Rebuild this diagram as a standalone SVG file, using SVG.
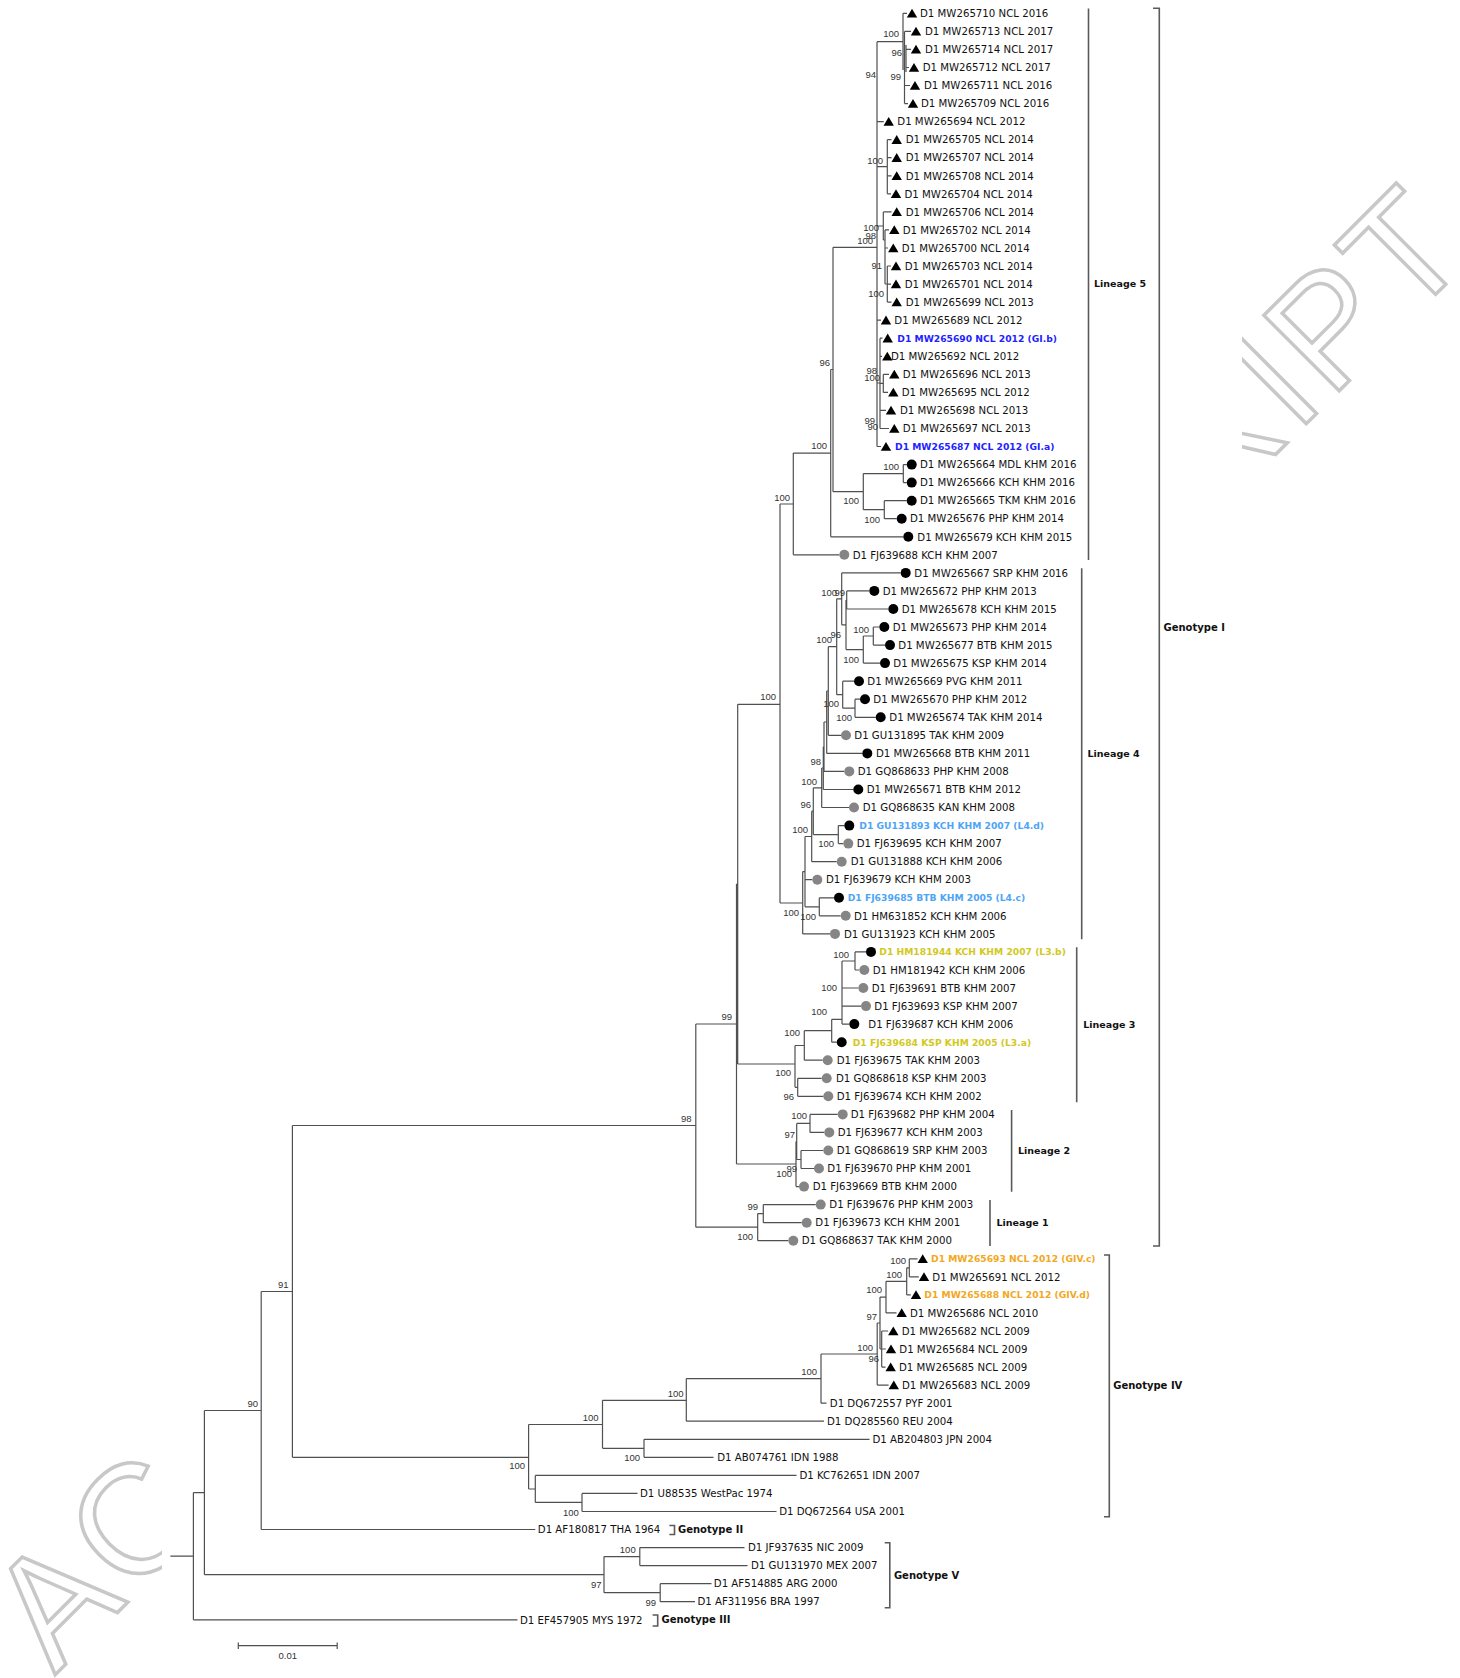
<svg xmlns="http://www.w3.org/2000/svg" xmlns:xlink="http://www.w3.org/1999/xlink" width="1460" height="1678" viewBox="0 0 1460 1678">
<style>
.br{fill:none;stroke:#505050;stroke-width:1.2}
.bk{fill:none;stroke:#5a5a5a;stroke-width:1.6}
.t{font-family:"DejaVu Sans","Verdana",sans-serif;font-size:10.2px;fill:#111}
.hb{font-family:"DejaVu Sans","Verdana",sans-serif;font-size:9.2px;font-weight:bold}
.blue{fill:#1f1fff}
.lb{fill:#4ea5f5}
.yl{fill:#d2c81e}
.or{fill:#f2a81d}
.bs{font-family:"Liberation Sans",Arial,sans-serif;font-size:9.5px;fill:#333;text-anchor:end}
.cl{font-family:"DejaVu Sans","Verdana",sans-serif;font-size:9.5px;font-weight:bold;fill:#111}
.gl{font-family:"DejaVu Sans","Verdana",sans-serif;font-size:10px;font-weight:bold;fill:#111}
.k{fill:#000}
.g{fill:#858585}
.wm{font-family:"Liberation Sans",Arial,sans-serif;font-size:155px;fill:none;stroke:#c8c8c8;stroke-width:3.5}
</style>
<defs>
<path id="tri" d="M0,-4.6 L5.2,4.2 L-5.2,4.2 Z" fill="#000"/>
</defs>
<rect x="0" y="0" width="1460" height="1678" fill="#fff"/>
<g id="watermark">
<text class="wm" x="0" y="0" transform="translate(55,1675) rotate(-45)" textLength="2007" lengthAdjust="spacing">ACCEPTED MANUSCRIPT</text>
</g>
<rect x="162" y="0" width="1080" height="1678" fill="#fff"/>

<g id="connectors">
<path class="br" d="
M903 13.3 H907 M904.5 31.4 H911 M906 49.4 H911 M906 67.5 H909 M904.5 85.5 H910 M904.5 103.6 H908
M903 13.3 V70 M904.5 31.4 V103.6 M906 45 V72
M877 41.7 H903 M877 121.6 H883.7 M877 41.7 V446.5
M877 166.7 H887.3 M887.3 139.7 V193.8 M887.3 139.7 H891.5 M887.3 157.7 H891.5 M887.3 175.8 H891.5 M887.3 193.8 H891
M877 226 H883.3 M883.3 211.9 V240 M883.3 211.9 H891.5 M883.3 240 H885 M885 229.9 V284 M885 229.9 H889 M885 248 H888
M885 284 H887.3 M887.3 266 V302.1 M887.3 266 H891 M887.3 284.1 H891 M887.3 302.1 H891.5
M877 320.2 H881 M877 383 H880 M880 338.2 V428.5 M880 338.2 H882.5 M880 356.3 H882
M880 383.3 H883.3 M883.3 374.3 V392.4 M883.3 374.3 H889 M883.3 392.4 H888 M880 410.4 H886 M880 428.5 H889 M877 446.5 H881
M903.3 464.6 V482.6 M903.3 464.6 H906.7 M903.3 482.6 H906.7
M863.3 473.6 V509.7 M863.3 473.6 H903.3
M884.3 500.7 V518.7 M863.3 509.7 H884.3 M884.3 500.7 H906.7 M884.3 518.7 H896.7
M833 247.3 V491.7 M833 247.3 H877 M833 491.7 H863.3
M830.7 369.5 V536.8 M830.7 369.5 H833 M830.7 536.8 H903.3
M793.3 453.1 V554.8 M793.3 453.1 H830.7 M793.3 554.8 H839.3
M780 504 V903 M780 504 H793.3 M780 903 H802.7
M846.7 590.9 V609 M846.7 590.9 H869.3 M846.7 609 H888.3
M873.3 627 V645.1 M873.3 627 H879.3 M873.3 645.1 H885
M863.3 636 V663.1 M863.3 636 H873.3 M863.3 663.1 H880
M846 600 V649.6 M846 600 H846.7 M846 649.6 H863.3
M841.7 572.9 V624.8 M841.7 572.9 H900.7 M841.7 624.8 H846
M855 699.2 V717.3 M855 699.2 H860 M855 717.3 H875.7
M842.7 681.2 V708.2 M842.7 681.2 H854 M842.7 708.2 H855
M836.7 598.8 V694.7 M836.7 598.8 H841.7 M836.7 694.7 H842.7
M828.3 646.7 V735.3 M828.3 646.7 H836.7 M828.3 735.3 H841
M826.7 691 V753.4 M826.7 691 H828.3 M826.7 753.4 H862.3
M824 722 V771.4 M824 722 H826.7 M824 771.4 H844.3
M823.3 746.7 V789.5 M823.3 746.7 H824 M823.3 789.5 H853.3
M821.7 768 V807.5 M821.7 768 H823.3 M821.7 807.5 H849
M813.3 787.8 V834.6 M813.3 787.8 H821.7 M813.3 834.6 H838.3
M838.3 825.6 V843.6 M838.3 825.6 H844.3 M838.3 843.6 H843.3
M811.7 811.2 V861.7 M811.7 811.2 H813.3 M811.7 861.7 H836.7
M805 836.5 V906.8 M805 836.5 H811.7 M805 879.7 H812.3 M805 906.8 H819.3
M819.3 897.8 V915.8 M819.3 897.8 H834 M819.3 915.8 H840.7
M802.7 871.6 V933.9 M802.7 871.6 H805 M802.7 933.9 H830
M855 951.9 V970 M855 951.9 H866 M855 970 H859.3
M842 961 V1024.1 M842 961 H855 M842 988 H858.3 M842 1006.1 H861 M842 1024.1 H849.3
M831.7 1019.3 V1042.2 M831.7 1019.3 H842 M831.7 1042.2 H836.7
M804.3 1030.7 V1060.2 M804.3 1030.7 H831.7 M804.3 1060.2 H822.7
M797.7 1078.3 V1096.3 M797.7 1078.3 H821.7 M797.7 1096.3 H823.3
M795 1045.5 V1087.3 M795 1045.5 H804.3 M795 1087.3 H797.7
M737.7 704.3 V1064 M737.7 704.3 H780 M737.7 1064 H795
M810 1114.4 V1132.4 M810 1114.4 H837.7 M810 1132.4 H824.3
M801 1150.5 V1168.5 M801 1150.5 H823.3 M801 1168.5 H814
M796.7 1123.4 V1159.5 M796.7 1123.4 H810 M796.7 1159.5 H801
M796 1141.5 V1186.6 M796 1141.5 H796.7 M796 1186.6 H799
M736.5 884 V1164 M736.5 1164 H796 M736.5 884 H737.7
M763.3 1204.6 V1222.7 M763.3 1204.6 H815.7 M763.3 1222.7 H801.7
M757.7 1213.6 V1240.7 M757.7 1213.6 H763.3 M757.7 1240.7 H788.3
M695.8 1024 V1227.2 M695.8 1024 H736.5 M695.8 1227.2 H757.7
M292.4 1125.5 H695.8
M909.3 1258.8 V1276.8 M909.3 1258.8 H917.5 M909.3 1276.8 H918.8
M906.7 1267.8 V1294.9 M906.7 1267.8 H909.3 M906.7 1294.9 H910.8
M886 1281.3 V1312.9 M886 1281.3 H906.7 M886 1312.9 H896.5
M880 1297.1 V1349 M880 1297.1 H886 M880 1349 H881.7
M881.7 1331 V1367.1 M881.7 1331 H888.1 M881.7 1349 H885.8 M881.7 1367.1 H885.5
M877.2 1323 V1385.1 M877.2 1323 H880 M877.2 1385.1 H888.6
M821 1354 V1403.2 M821 1354 H877.2 M821 1403.2 H826.5
M686.3 1378.6 V1421.2 M686.3 1378.6 H821 M686.3 1421.2 H824
M644 1439.3 V1457.3 M644 1439.3 H869.5 M644 1457.3 H713.5
M602.5 1400.3 V1448.3 M602.5 1400.3 H686.3 M602.5 1448.3 H644
M582 1493.4 V1511.5 M582 1493.4 H637.5 M582 1511.5 H776.5
M535.3 1475.4 V1502.4 M535.3 1475.4 H796.5 M535.3 1502.4 H582
M528.6 1424.5 V1489 M528.6 1424.5 H602.5 M528.6 1489 H535.3
M292.4 1125.5 V1457.3 M292.4 1457.3 H528.6
M261.2 1291.5 V1529.5 M261.2 1291.5 H292.4 M261.2 1529.5 H535.3
M639.8 1547.6 V1565.6 M639.8 1547.6 H744.5 M639.8 1565.6 H747.5
M660.2 1583.7 V1601.7 M660.2 1583.7 H711.5 M660.2 1601.7 H695
M604 1556.6 V1592.7 M604 1556.6 H639.8 M604 1592.7 H660.2
M204.4 1410.5 V1574.7 M204.4 1410.5 H261.2 M204.4 1574.7 H604
M193.4 1492.6 V1619.8 M193.4 1492.6 H204.4 M193.4 1619.8 H517.5
M170.4 1556.2 H193.4"/>
</g>

<g id="tips-lineage5">
<g id="tip1"><use xlink:href="#tri" x="912" y="13.3"/><text class="t" x="920" y="17">D1 MW265710 NCL 2016</text></g>
<g id="tip2"><use xlink:href="#tri" x="916" y="31.4"/><text class="t" x="925" y="35.1">D1 MW265713 NCL 2017</text></g>
<g id="tip3"><use xlink:href="#tri" x="916" y="49.4"/><text class="t" x="925" y="53.1">D1 MW265714 NCL 2017</text></g>
<g id="tip4"><use xlink:href="#tri" x="914" y="67.5"/><text class="t" x="922.7" y="71.2">D1 MW265712 NCL 2017</text></g>
<g id="tip5"><use xlink:href="#tri" x="915" y="85.5"/><text class="t" x="924" y="89.2">D1 MW265711 NCL 2016</text></g>
<g id="tip6"><use xlink:href="#tri" x="913" y="103.6"/><text class="t" x="921" y="107.3">D1 MW265709 NCL 2016</text></g>
<g id="tip7"><use xlink:href="#tri" x="888.7" y="121.6"/><text class="t" x="897.3" y="125.3">D1 MW265694 NCL 2012</text></g>
<g id="tip8"><use xlink:href="#tri" x="896.7" y="139.7"/><text class="t" x="905.7" y="143.4">D1 MW265705 NCL 2014</text></g>
<g id="tip9"><use xlink:href="#tri" x="896.7" y="157.7"/><text class="t" x="905.7" y="161.4">D1 MW265707 NCL 2014</text></g>
<g id="tip10"><use xlink:href="#tri" x="896.7" y="175.8"/><text class="t" x="905.7" y="179.5">D1 MW265708 NCL 2014</text></g>
<g id="tip11"><use xlink:href="#tri" x="896" y="193.8"/><text class="t" x="904.5" y="197.5">D1 MW265704 NCL 2014</text></g>
<g id="tip12"><use xlink:href="#tri" x="896.7" y="211.9"/><text class="t" x="905.7" y="215.6">D1 MW265706 NCL 2014</text></g>
<g id="tip13"><use xlink:href="#tri" x="894.3" y="229.9"/><text class="t" x="902.7" y="233.6">D1 MW265702 NCL 2014</text></g>
<g id="tip14"><use xlink:href="#tri" x="893.3" y="248"/><text class="t" x="901.7" y="251.7">D1 MW265700 NCL 2014</text></g>
<g id="tip15"><use xlink:href="#tri" x="896" y="266"/><text class="t" x="904.7" y="269.7">D1 MW265703 NCL 2014</text></g>
<g id="tip16"><use xlink:href="#tri" x="896" y="284.1"/><text class="t" x="904.7" y="287.8">D1 MW265701 NCL 2014</text></g>
<g id="tip17"><use xlink:href="#tri" x="896.7" y="302.1"/><text class="t" x="905.7" y="305.8">D1 MW265699 NCL 2013</text></g>
<g id="tip18"><use xlink:href="#tri" x="886" y="320.2"/><text class="t" x="894.3" y="323.9">D1 MW265689 NCL 2012</text></g>
<g id="tip19"><use xlink:href="#tri" x="887.7" y="338.2"/><text class="hb blue" x="897.3" y="341.6">D1 MW265690 NCL 2012 (GI.b)</text></g>
<g id="tip20"><use xlink:href="#tri" x="887.3" y="356.3"/><text class="t" x="891" y="360">D1 MW265692 NCL 2012</text></g>
<g id="tip21"><use xlink:href="#tri" x="894.3" y="374.3"/><text class="t" x="902.7" y="378">D1 MW265696 NCL 2013</text></g>
<g id="tip22"><use xlink:href="#tri" x="893.3" y="392.4"/><text class="t" x="901.7" y="396.1">D1 MW265695 NCL 2012</text></g>
<g id="tip23"><use xlink:href="#tri" x="891" y="410.4"/><text class="t" x="900" y="414.1">D1 MW265698 NCL 2013</text></g>
<g id="tip24"><use xlink:href="#tri" x="894.3" y="428.5"/><text class="t" x="902.7" y="432.2">D1 MW265697 NCL 2013</text></g>
<g id="tip25"><use xlink:href="#tri" x="886" y="446.5"/><text class="hb blue" x="895" y="449.9">D1 MW265687 NCL 2012 (GI.a)</text></g>
<g id="tip26"><circle class="k" cx="911.7" cy="464.6" r="5"/><text class="t" x="920" y="468.3">D1 MW265664 MDL KHM 2016</text></g>
<g id="tip27"><circle class="k" cx="911.7" cy="482.6" r="5"/><text class="t" x="920" y="486.3">D1 MW265666 KCH KHM 2016</text></g>
<g id="tip28"><circle class="k" cx="911.7" cy="500.7" r="5"/><text class="t" x="920" y="504.4">D1 MW265665 TKM KHM 2016</text></g>
<g id="tip29"><circle class="k" cx="901.7" cy="518.7" r="5"/><text class="t" x="910" y="522.4">D1 MW265676 PHP KHM 2014</text></g>
<g id="tip30"><circle class="k" cx="908.3" cy="536.8" r="5"/><text class="t" x="917.3" y="540.5">D1 MW265679 KCH KHM 2015</text></g>
<g id="tip31"><circle class="g" cx="844.3" cy="554.8" r="5"/><text class="t" x="852.7" y="558.5">D1 FJ639688 KCH KHM 2007</text></g>
</g>

<g id="tips-lineage4">
<g id="tip32"><circle class="k" cx="905.7" cy="572.9" r="5"/><text class="t" x="914.3" y="576.6">D1 MW265667 SRP KHM 2016</text></g>
<g id="tip33"><circle class="k" cx="874.3" cy="590.9" r="5"/><text class="t" x="882.7" y="594.6">D1 MW265672 PHP KHM 2013</text></g>
<g id="tip34"><circle class="k" cx="893.3" cy="609" r="5"/><text class="t" x="901.7" y="612.7">D1 MW265678 KCH KHM 2015</text></g>
<g id="tip35"><circle class="k" cx="884.3" cy="627" r="5"/><text class="t" x="892.7" y="630.7">D1 MW265673 PHP KHM 2014</text></g>
<g id="tip36"><circle class="k" cx="890" cy="645.1" r="5"/><text class="t" x="898.3" y="648.8">D1 MW265677 BTB KHM 2015</text></g>
<g id="tip37"><circle class="k" cx="885" cy="663.1" r="5"/><text class="t" x="893.3" y="666.8">D1 MW265675 KSP KHM 2014</text></g>
<g id="tip38"><circle class="k" cx="859" cy="681.2" r="5"/><text class="t" x="867.3" y="684.9">D1 MW265669 PVG KHM 2011</text></g>
<g id="tip39"><circle class="k" cx="865" cy="699.2" r="5"/><text class="t" x="873.3" y="702.9">D1 MW265670 PHP KHM 2012</text></g>
<g id="tip40"><circle class="k" cx="880.7" cy="717.3" r="5"/><text class="t" x="889.3" y="721">D1 MW265674 TAK KHM 2014</text></g>
<g id="tip41"><circle class="g" cx="846" cy="735.3" r="5"/><text class="t" x="854.3" y="739">D1 GU131895 TAK KHM 2009</text></g>
<g id="tip42"><circle class="k" cx="867.3" cy="753.4" r="5"/><text class="t" x="876" y="757.1">D1 MW265668 BTB KHM 2011</text></g>
<g id="tip43"><circle class="g" cx="849.3" cy="771.4" r="5"/><text class="t" x="857.7" y="775.1">D1 GQ868633 PHP KHM 2008</text></g>
<g id="tip44"><circle class="k" cx="858.3" cy="789.5" r="5"/><text class="t" x="866.7" y="793.2">D1 MW265671 BTB KHM 2012</text></g>
<g id="tip45"><circle class="g" cx="854" cy="807.5" r="5"/><text class="t" x="862.7" y="811.2">D1 GQ868635 KAN KHM 2008</text></g>
<g id="tip46"><circle class="k" cx="849.3" cy="825.6" r="5"/><text class="hb lb" x="859.3" y="829">D1 GU131893 KCH KHM 2007 (L4.d)</text></g>
<g id="tip47"><circle class="g" cx="848.3" cy="843.6" r="5"/><text class="t" x="856.7" y="847.3">D1 FJ639695 KCH KHM 2007</text></g>
<g id="tip48"><circle class="g" cx="841.7" cy="861.7" r="5"/><text class="t" x="850.7" y="865.4">D1 GU131888 KCH KHM 2006</text></g>
<g id="tip49"><circle class="g" cx="817.3" cy="879.7" r="5"/><text class="t" x="826" y="883.4">D1 FJ639679 KCH KHM 2003</text></g>
<g id="tip50"><circle class="k" cx="839" cy="897.8" r="5"/><text class="hb lb" x="847.7" y="901.2">D1 FJ639685 BTB KHM 2005 (L4.c)</text></g>
<g id="tip51"><circle class="g" cx="845.7" cy="915.8" r="5"/><text class="t" x="854" y="919.5">D1 HM631852 KCH KHM 2006</text></g>
<g id="tip52"><circle class="g" cx="835" cy="933.9" r="5"/><text class="t" x="844" y="937.6">D1 GU131923 KCH KHM 2005</text></g>
</g>

<g id="tips-lineage3">
<g id="tip53"><circle class="k" cx="871" cy="951.9" r="5"/><text class="hb yl" x="879.3" y="955.3">D1 HM181944 KCH KHM 2007 (L3.b)</text></g>
<g id="tip54"><circle class="g" cx="864.3" cy="970" r="5"/><text class="t" x="872.7" y="973.7">D1 HM181942 KCH KHM 2006</text></g>
<g id="tip55"><circle class="g" cx="863.3" cy="988" r="5"/><text class="t" x="871.7" y="991.7">D1 FJ639691 BTB KHM 2007</text></g>
<g id="tip56"><circle class="g" cx="866" cy="1006.1" r="5"/><text class="t" x="874.3" y="1009.8">D1 FJ639693 KSP KHM 2007</text></g>
<g id="tip57"><circle class="k" cx="854.3" cy="1024.1" r="5"/><text class="t" x="868.3" y="1027.8">D1 FJ639687 KCH KHM 2006</text></g>
<g id="tip58"><circle class="k" cx="841.7" cy="1042.2" r="5"/><text class="hb yl" x="852.7" y="1045.6">D1 FJ639684 KSP KHM 2005 (L3.a)</text></g>
<g id="tip59"><circle class="g" cx="827.7" cy="1060.2" r="5"/><text class="t" x="836.7" y="1063.9">D1 FJ639675 TAK KHM 2003</text></g>
<g id="tip60"><circle class="g" cx="826.7" cy="1078.3" r="5"/><text class="t" x="836" y="1082">D1 GQ868618 KSP KHM 2003</text></g>
<g id="tip61"><circle class="g" cx="828.3" cy="1096.3" r="5"/><text class="t" x="836.7" y="1100">D1 FJ639674 KCH KHM 2002</text></g>
</g>

<g id="tips-lineage2-1">
<g id="tip62"><circle class="g" cx="842.7" cy="1114.4" r="5"/><text class="t" x="850.7" y="1118.1">D1 FJ639682 PHP KHM 2004</text></g>
<g id="tip63"><circle class="g" cx="829.3" cy="1132.4" r="5"/><text class="t" x="837.7" y="1136.1">D1 FJ639677 KCH KHM 2003</text></g>
<g id="tip64"><circle class="g" cx="828.3" cy="1150.5" r="5"/><text class="t" x="836.7" y="1154.2">D1 GQ868619 SRP KHM 2003</text></g>
<g id="tip65"><circle class="g" cx="819" cy="1168.5" r="5"/><text class="t" x="827.3" y="1172.2">D1 FJ639670 PHP KHM 2001</text></g>
<g id="tip66"><circle class="g" cx="804" cy="1186.6" r="5"/><text class="t" x="812.7" y="1190.3">D1 FJ639669 BTB KHM 2000</text></g>
<g id="tip67"><circle class="g" cx="820.7" cy="1204.6" r="5"/><text class="t" x="829.3" y="1208.3">D1 FJ639676 PHP KHM 2003</text></g>
<g id="tip68"><circle class="g" cx="806.7" cy="1222.7" r="5"/><text class="t" x="815.3" y="1226.4">D1 FJ639673 KCH KHM 2001</text></g>
<g id="tip69"><circle class="g" cx="793.3" cy="1240.7" r="5"/><text class="t" x="801.7" y="1244.4">D1 GQ868637 TAK KHM 2000</text></g>
</g>

<g id="tips-genotype4">
<g id="tip70"><use xlink:href="#tri" x="922.7" y="1258.8"/><text class="hb or" x="931" y="1262.2">D1 MW265693 NCL 2012 (GIV.c)</text></g>
<g id="tip71"><use xlink:href="#tri" x="924" y="1276.8"/><text class="t" x="932.3" y="1280.5">D1 MW265691 NCL 2012</text></g>
<g id="tip72"><use xlink:href="#tri" x="916" y="1294.9"/><text class="hb or" x="924.3" y="1298.3">D1 MW265688 NCL 2012 (GIV.d)</text></g>
<g id="tip73"><use xlink:href="#tri" x="901.7" y="1312.9"/><text class="t" x="910" y="1316.6">D1 MW265686 NCL 2010</text></g>
<g id="tip74"><use xlink:href="#tri" x="893.3" y="1331"/><text class="t" x="901.7" y="1334.7">D1 MW265682 NCL 2009</text></g>
<g id="tip75"><use xlink:href="#tri" x="891" y="1349"/><text class="t" x="899.3" y="1352.7">D1 MW265684 NCL 2009</text></g>
<g id="tip76"><use xlink:href="#tri" x="890.7" y="1367.1"/><text class="t" x="899" y="1370.8">D1 MW265685 NCL 2009</text></g>
<g id="tip77"><use xlink:href="#tri" x="893.8" y="1385.1"/><text class="t" x="902" y="1388.8">D1 MW265683 NCL 2009</text></g>
<g id="tip78"><text class="t" x="829.8" y="1406.9">D1 DQ672557 PYF 2001</text></g>
<g id="tip79"><text class="t" x="827" y="1424.9">D1 DQ285560 REU 2004</text></g>
<g id="tip80"><text class="t" x="872.5" y="1443">D1 AB204803 JPN 2004</text></g>
<g id="tip81"><text class="t" x="717.2" y="1461">D1 AB074761 IDN 1988</text></g>
<g id="tip82"><text class="t" x="799.4" y="1479.1">D1 KC762651 IDN 2007</text></g>
<g id="tip83"><text class="t" x="640" y="1497.1">D1 U88535 WestPac 1974</text></g>
<g id="tip84"><text class="t" x="779.2" y="1515.2">D1 DQ672564 USA 2001</text></g>
</g>

<g id="tips-other">
<g id="tip85"><text class="t" x="537.8" y="1533.2">D1 AF180817 THA 1964</text></g>
<g id="tip86"><text class="t" x="748" y="1551.3">D1 JF937635 NIC 2009</text></g>
<g id="tip87"><text class="t" x="751" y="1569.3">D1 GU131970 MEX 2007</text></g>
<g id="tip88"><text class="t" x="713.8" y="1587.4">D1 AF514885 ARG 2000</text></g>
<g id="tip89"><text class="t" x="697.4" y="1605.4">D1 AF311956 BRA 1997</text></g>
<g id="tip90"><text class="t" x="519.9" y="1623.5">D1 EF457905 MYS 1972</text></g>
</g>

<g id="bootstrap">
<text class="bs" x="899" y="37.4">100</text>
<text class="bs" x="902" y="56">96</text>
<text class="bs" x="901" y="80.4">99</text>
<text class="bs" x="876" y="78.4">94</text>
<text class="bs" x="883" y="164.4">100</text>
<text class="bs" x="879" y="231">100</text>
<text class="bs" x="876" y="239.4">98</text>
<text class="bs" x="873" y="244">100</text>
<text class="bs" x="882" y="269.4">91</text>
<text class="bs" x="884" y="297.4">100</text>
<text class="bs" x="877" y="374">98</text>
<text class="bs" x="880" y="380.7">100</text>
<text class="bs" x="875" y="424">99</text>
<text class="bs" x="878" y="430">90</text>
<text class="bs" x="830" y="366">96</text>
<text class="bs" x="827" y="449.4">100</text>
<text class="bs" x="899" y="470">100</text>
<text class="bs" x="859" y="504.4">100</text>
<text class="bs" x="880" y="522.7">100</text>
<text class="bs" x="790" y="501">100</text>
<text class="bs" x="776" y="699.8">100</text>
<text class="bs" x="837" y="595.7">100</text>
<text class="bs" x="845" y="595.7">99</text>
<text class="bs" x="869" y="633.4">100</text>
<text class="bs" x="841" y="638.4">96</text>
<text class="bs" x="832" y="643.4">100</text>
<text class="bs" x="859" y="662.7">100</text>
<text class="bs" x="839" y="707.4">100</text>
<text class="bs" x="852" y="720.7">100</text>
<text class="bs" x="821" y="765.4">98</text>
<text class="bs" x="817" y="785">100</text>
<text class="bs" x="811" y="808.4">96</text>
<text class="bs" x="808" y="833.4">100</text>
<text class="bs" x="834" y="847.4">100</text>
<text class="bs" x="799" y="916">100</text>
<text class="bs" x="816" y="920">100</text>
<text class="bs" x="849" y="957.7">100</text>
<text class="bs" x="837" y="991">100</text>
<text class="bs" x="827" y="1015">100</text>
<text class="bs" x="800" y="1036">100</text>
<text class="bs" x="791" y="1075.7">100</text>
<text class="bs" x="794" y="1100">96</text>
<text class="bs" x="732" y="1020">99</text>
<text class="bs" x="807" y="1119.4">100</text>
<text class="bs" x="795" y="1138.4">97</text>
<text class="bs" x="797" y="1171.7">99</text>
<text class="bs" x="792" y="1176.7">100</text>
<text class="bs" x="691.5" y="1122.4">98</text>
<text class="bs" x="758" y="1210">99</text>
<text class="bs" x="753" y="1240">100</text>
<text class="bs" x="906" y="1264">100</text>
<text class="bs" x="902" y="1277.7">100</text>
<text class="bs" x="882" y="1293.4">100</text>
<text class="bs" x="877" y="1320">97</text>
<text class="bs" x="873" y="1350.7">100</text>
<text class="bs" x="879" y="1361.7">96</text>
<text class="bs" x="817" y="1375">100</text>
<text class="bs" x="683.5" y="1396.7">100</text>
<text class="bs" x="598.6" y="1420.7">100</text>
<text class="bs" x="640" y="1461">100</text>
<text class="bs" x="525" y="1469">100</text>
<text class="bs" x="578.8" y="1515.7">100</text>
<text class="bs" x="288.5" y="1287.7">91</text>
<text class="bs" x="258" y="1406.7">90</text>
<text class="bs" x="635.7" y="1552.7">100</text>
<text class="bs" x="601.5" y="1588.4">97</text>
<text class="bs" x="656" y="1606">99</text>
</g>

<g id="clades">
<path class="bk" d="M1088.5 8.5 V560 M1081.7 568.3 V939.3 M1076.7 947.3 V1102.3 M1011.6 1110 V1191.7 M990 1200 V1246
M1153 8.3 H1159.3 V1246 H1153 M1104 1255 H1109.3 V1516.7 H1104 M884.7 1542.7 H889.8 V1607.7 H884.7
M669.4 1525.5 H674.5 V1534.5 H669.4 M652.6 1615 H657.7 V1626 H652.6"/>
<text class="cl" x="1094" y="287.2">Lineage 5</text>
<text class="cl" x="1087.5" y="757">Lineage 4</text>
<text class="cl" x="1083.3" y="1027.8">Lineage 3</text>
<text class="cl" x="1018" y="1154.1">Lineage 2</text>
<text class="cl" x="996.5" y="1225.8">Lineage 1</text>
<text class="gl" x="1163.5" y="630.9">Genotype I</text>
<text class="gl" x="1113.2" y="1388.7">Genotype IV</text>
<text class="gl" x="678" y="1533.1">Genotype II</text>
<text class="gl" x="893.9" y="1578.6">Genotype V</text>
<text class="gl" x="661.5" y="1623.3">Genotype III</text>
</g>

<g id="scale">
<path class="br" d="M238.3 1645.7 H337.2 M238.3 1642.5 V1649 M337.2 1642.5 V1649"/>
<text x="287.8" y="1659" font-family="Liberation Sans, Arial, sans-serif" font-size="9.5" fill="#333" text-anchor="middle">0.01</text>
</g>
</svg>
